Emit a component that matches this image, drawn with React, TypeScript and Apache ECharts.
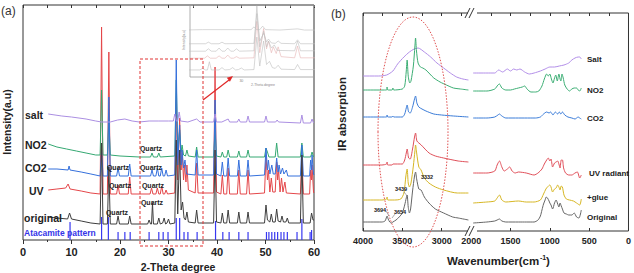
import React, { useEffect, useRef } from "react";
import * as echarts from "echarts";

// ---------- Panel (a): XRD, [2-theta, intensity (a.u.)] ----------
const xrdTicks = [0, 10, 20, 30, 40, 50, 60];

const xrdOriginal: number[][] = [
  [5.2, 23], [7, 22], [9.2, 21], [9.6, 27], [10, 21], [12, 19], [14, 17], [15.9, 16], [16.2, 97], [16.5, 16],
  [17.4, 16], [17.7, 73], [18, 16], [19.3, 16], [19.6, 24], [19.9, 16], [21.7, 16], [22, 24], [22.3, 16],
  [25.7, 16], [26, 20], [26.3, 16], [26.5, 16], [26.7, 37], [26.9, 16], [27.7, 16], [28, 22], [28.3, 16],
  [28.8, 17], [29.1, 22], [29.4, 16], [29.7, 17], [30, 21], [30.3, 16], [31.3, 17], [31.6, 100], [31.9, 26],
  [32.3, 90], [32.6, 30], [32.9, 38], [33.2, 22], [33.5, 20], [33.8, 28], [34.1, 18], [35.5, 17], [35.8, 30],
  [36.1, 17], [39.3, 17], [39.6, 90], [39.9, 18], [40.8, 17], [41.1, 27], [41.4, 17], [42, 17], [42.3, 30],
  [42.6, 17], [44.2, 17], [44.5, 28], [44.8, 17], [46.1, 17], [46.4, 28], [46.7, 17], [49.8, 17], [50.1, 35],
  [50.4, 20], [50.9, 18], [51.2, 26], [51.5, 18], [52, 18], [52.3, 31], [52.6, 19], [53.1, 18], [53.4, 24],
  [53.7, 18], [54.2, 18], [54.5, 22], [54.8, 17], [57.2, 17], [57.5, 85], [57.8, 17], [59.2, 17], [59.5, 27],
  [59.8, 20], [60, 20],
];

const xrdUV: number[][] = [
  [5.2, 50], [7, 51], [8.8, 52], [9.3, 56], [9.7, 51], [12, 49], [14, 47], [15.9, 46], [16.2, 213], [16.5, 46],
  [17.4, 46], [17.7, 188], [18, 46], [19.3, 46], [19.6, 55], [19.9, 46], [21.7, 46], [22, 63], [22.3, 46],
  [26.2, 46], [26.5, 52], [26.8, 46], [27.4, 46], [27.7, 52], [28, 46], [28.3, 46], [28.6, 54], [28.9, 46],
  [29.2, 46], [29.5, 50], [29.8, 46], [31.3, 47], [31.6, 140], [31.9, 60], [32.3, 122], [32.6, 70], [32.8, 90],
  [33.1, 60], [33.3, 75], [33.6, 58], [33.8, 75], [34.1, 50], [35.5, 47], [35.8, 77], [36.1, 47], [39.3, 47],
  [39.6, 173], [39.9, 48], [40.8, 46], [41.1, 65], [41.4, 46], [42, 46], [42.3, 72], [42.6, 46], [44.2, 46],
  [44.5, 70], [44.8, 46], [46.1, 46], [46.4, 70], [46.7, 46], [49.8, 47], [50.1, 85], [50.4, 60], [50.6, 70],
  [50.9, 48], [51.2, 62], [51.5, 48], [52, 48], [52.3, 78], [52.5, 60], [52.7, 70], [53, 48], [53.3, 62],
  [53.6, 48], [54, 58], [54.3, 47], [57.2, 46], [57.5, 85], [57.8, 46], [59.1, 46], [59.3, 70], [59.5, 60],
  [59.6, 75], [59.9, 48], [60, 47],
];

const xrdCO2: number[][] = [
  [5.2, 71], [7, 71], [9.3, 70], [9.5, 74], [9.7, 70], [12, 68], [14, 66], [15.9, 64], [16.2, 90], [16.5, 64],
  [17.4, 64], [17.7, 143], [18, 64], [19.3, 64], [19.6, 72], [19.9, 64], [21.7, 64], [22, 76], [22.3, 64],
  [26.3, 64], [26.6, 70], [26.9, 64], [27.4, 64], [27.7, 72], [28, 64], [28.3, 64], [28.6, 72], [28.9, 64],
  [29.2, 64], [29.5, 70], [29.8, 64], [31.3, 65], [31.6, 180], [31.9, 75], [32.3, 115], [32.6, 75], [32.8, 90],
  [33.1, 72], [33.4, 80], [33.7, 66], [35.5, 65], [35.8, 90], [36.1, 65], [39.3, 65], [39.6, 140], [39.9, 66],
  [40.8, 64], [41.1, 78], [41.4, 64], [42, 64], [42.3, 82], [42.6, 64], [44.2, 64], [44.5, 80], [44.8, 64],
  [46.1, 64], [46.4, 80], [46.7, 64], [49.8, 65], [50.1, 92], [50.4, 70], [50.6, 80], [50.9, 66], [51.3, 75],
  [51.6, 66], [52, 66], [52.3, 82], [52.6, 68], [52.8, 75], [53.1, 66], [53.5, 72], [53.8, 66], [54.3, 70],
  [54.6, 64], [57.2, 64], [57.5, 95], [57.8, 64], [59.1, 64], [59.3, 80], [59.5, 70], [59.6, 85], [59.9, 66],
  [60, 65],
];

const xrdNO2: number[][] = [
  [5.2, 96], [7, 93], [9, 91], [11, 89], [13, 87], [15, 85], [15.9, 85], [16.2, 150], [16.5, 85], [17.4, 85],
  [17.7, 120], [18, 85], [20, 84], [24, 83], [26.3, 83], [26.6, 87], [26.9, 83], [27.7, 83], [28, 87], [28.3, 83],
  [31.3, 84], [31.6, 160], [31.9, 90], [32.3, 110], [32.6, 88], [32.8, 95], [33.1, 85], [33.5, 84], [33.8, 90],
  [34.1, 84], [35.5, 83], [35.8, 93], [36.1, 83], [39.3, 83], [39.6, 110], [39.9, 84], [40.8, 83], [41.1, 88],
  [41.4, 83], [42, 83], [42.3, 90], [42.6, 83], [44.2, 83], [44.5, 89], [44.8, 83], [46.1, 83], [46.4, 90],
  [46.7, 83], [49.8, 83], [50.1, 92], [50.4, 88], [50.7, 83], [52, 83], [52.3, 97], [52.6, 83], [57.2, 83],
  [57.5, 97], [57.8, 83], [59.3, 83], [59.6, 88], [59.9, 83], [60, 83],
];

const xrdSalt: number[][] = [
  [5.2, 126], [8, 124], [10, 123], [13, 121], [15, 119], [16.2, 118], [18, 118], [19.5, 120], [21, 121],
  [22.5, 119], [24, 118], [26, 119], [28, 119], [30, 119], [31, 119], [31.3, 126], [31.6, 119], [31.9, 119],
  [32.2, 128], [32.5, 119], [34, 118], [35.8, 121], [36.5, 118], [39.3, 118], [39.6, 126], [39.9, 118], [41, 118],
  [42.3, 121], [42.6, 118], [44.2, 118], [44.5, 121], [44.8, 118], [46.1, 118], [46.4, 124], [46.7, 118],
  [49.8, 118], [50.1, 124], [50.4, 118], [52.1, 118], [52.4, 120], [52.7, 118], [57.2, 117], [57.5, 125],
  [57.8, 117], [59.3, 117], [59.6, 121], [59.9, 117], [60, 117],
];

const atacamitePos = [9.7, 16.2, 17.6, 19.6, 21.0, 22.1, 26.0, 28.0, 28.9, 29.9, 31.6, 32.3, 33.2, 34.0, 35.9, 39.7,
  41.2, 42.5, 44.5, 46.4, 50.2, 50.7, 51.3, 51.9, 52.5, 53.2, 53.8, 54.5, 56.5, 57.5, 59.2, 59.5];
const atacamiteH = [18, 23, 23, 8, 8, 8, 8, 8, 8, 8, 22, 22, 8, 8, 8, 19, 8, 8, 8, 8, 8, 8, 8, 8, 8, 8, 8, 8, 8, 21, 8, 10];

const quartzLabels = [[151, 148], [118, 167], [151, 167], [120, 185], [153, 185], [152, 202], [117, 212]];

// ---------- Panel (b): FTIR, [wavenumber, absorbance (a.u.)] ----------
const irTickLabels = [4000, 3500, 3000, 2000, 1500, 1000, 500, 0];
const BREAK_AT = 2300;
const BREAK_SHIFT = 625;

const irSaltHigh = [[4000, 155], [3800, 155], [3700, 156], [3620, 160], [3560, 167], [3480, 174], [3410, 179], [3350, 182], [3300, 183], [3220, 179], [3140, 174], [3060, 168], [2975, 163], [2890, 158], [2810, 154], [2730, 152], [2660, 151]];
const irSaltLow = [[1975, 158], [1800, 158], [1700, 158], [1650, 161], [1600, 159], [1540, 162], [1500, 160], [1460, 162], [1420, 161], [1380, 162], [1320, 159], [1260, 157], [1200, 158], [1120, 160], [1060, 162], [1000, 164], [940, 164], [880, 165], [820, 166], [760, 168], [720, 171], [680, 173], [640, 174], [620, 174], [600, 172]];

const irNO2High = [[4000, 141], [3760, 141], [3700, 141], [3694, 144], [3685, 141], [3630, 141], [3620, 143], [3610, 141], [3500, 142], [3470, 145], [3450, 160], [3439, 171], [3425, 155], [3405, 148], [3390, 150], [3360, 165], [3340, 185], [3332, 193], [3320, 180], [3300, 168], [3270, 164], [3240, 163], [3200, 161], [3150, 157], [3100, 153], [3020, 149], [2940, 146], [2850, 143], [2760, 142], [2660, 141]];
const irNO2Low = [[1975, 140], [1800, 140], [1700, 142], [1660, 146], [1640, 147], [1610, 143], [1560, 141], [1500, 141], [1450, 142], [1400, 143], [1350, 144], [1320, 145], [1290, 142], [1240, 139], [1180, 139], [1140, 140], [1100, 145], [1070, 152], [1040, 157], [1020, 155], [1000, 157], [980, 152], [960, 148], [940, 153], [925, 156], [905, 150], [885, 157], [870, 152], [860, 150], [845, 157], [830, 153], [810, 146], [780, 142], [750, 140], [720, 142], [690, 143], [660, 143], [640, 141], [620, 140], [600, 143]];

const irCO2High = [[4000, 114], [3760, 114], [3700, 114], [3694, 116], [3685, 114], [3630, 114], [3620, 115], [3610, 114], [3500, 114], [3470, 117], [3450, 123], [3439, 126], [3420, 119], [3400, 118], [3370, 124], [3345, 132], [3332, 135], [3315, 128], [3290, 124], [3250, 122], [3200, 120], [3100, 117], [3000, 116], [2850, 115], [2660, 114]];
const irCO2Low = [[1975, 113], [1800, 113], [1700, 114], [1660, 116], [1640, 117], [1610, 115], [1560, 113], [1400, 113], [1250, 113], [1180, 113], [1120, 114], [1080, 117], [1040, 119], [1010, 118], [990, 119], [960, 116], [930, 119], [900, 117], [880, 119], [860, 117], [840, 119], [810, 116], [770, 114], [720, 113], [680, 112], [640, 114], [620, 113], [600, 112]];

const irUVHigh = [[4000, 66], [3760, 66], [3700, 67], [3694, 69], [3685, 66], [3630, 66], [3620, 67], [3500, 67], [3470, 71], [3450, 78], [3439, 82], [3420, 73], [3400, 72], [3370, 82], [3345, 94], [3332, 98], [3315, 90], [3290, 88], [3260, 86], [3160, 78], [3080, 75], [2975, 73], [2790, 70], [2660, 69]];
const irUVLow = [[1975, 58], [1800, 58], [1700, 60], [1670, 66], [1640, 70], [1610, 64], [1580, 60], [1540, 62], [1510, 64], [1480, 60], [1440, 58], [1400, 59], [1300, 58], [1200, 56], [1150, 58], [1100, 62], [1070, 67], [1040, 71], [1020, 73], [1000, 70], [985, 72], [965, 64], [940, 68], [920, 69], [900, 70], [885, 67], [870, 63], [855, 71], [840, 71], [825, 63], [800, 58], [760, 56], [720, 56], [680, 58], [650, 59], [620, 53], [600, 56]];

const irGlueHigh = [[4000, 31], [3760, 31], [3700, 32], [3694, 34], [3685, 31], [3600, 31], [3520, 32], [3480, 38], [3455, 55], [3439, 62], [3425, 48], [3410, 44], [3390, 48], [3360, 65], [3340, 80], [3332, 86], [3318, 78], [3290, 64], [3262, 61], [3220, 53], [3162, 48], [3080, 44], [2975, 41], [2800, 38], [2660, 38]];
const irGlueLow = [[1975, 28], [1800, 29], [1700, 30], [1670, 33], [1640, 36], [1610, 31], [1560, 29], [1400, 30], [1300, 29], [1200, 29], [1120, 31], [1080, 37], [1050, 42], [1030, 44], [1000, 46], [985, 44], [965, 39], [940, 42], [920, 43], [900, 46], [885, 44], [870, 41], [855, 45], [840, 44], [820, 36], [790, 32], [750, 31], [700, 30], [660, 28], [620, 26], [600, 32]];

const irOrigHigh = [[4000, 9], [3760, 9], [3720, 10], [3700, 14], [3694, 15], [3680, 12], [3660, 9], [3640, 8], [3620, 9], [3580, 11], [3540, 14], [3500, 18], [3470, 26], [3450, 33], [3439, 36], [3425, 24], [3410, 18], [3395, 22], [3370, 40], [3345, 55], [3332, 59], [3318, 52], [3290, 42], [3262, 41], [3220, 34], [3162, 28], [3080, 22], [2975, 18], [2860, 14], [2790, 13], [2660, 11]];
const irOrigLow = [[1975, 8], [1800, 9], [1700, 10], [1670, 11], [1640, 12], [1610, 10], [1560, 9], [1400, 9], [1300, 9], [1200, 9], [1150, 11], [1120, 15], [1100, 21], [1080, 27], [1060, 31], [1045, 34], [1030, 33], [1010, 30], [1000, 28], [985, 26], [965, 22], [940, 28], [920, 31], [900, 27], [885, 24], [870, 28], [855, 25], [840, 22], [820, 18], [790, 17], [760, 16], [720, 16], [690, 18], [660, 14], [630, 13], [600, 21]];

const FONT = "Arial, 'Liberation Sans', sans-serif";

function txt(text: string, x: number, y: number, size: number, opts: any = {}) {
  return {
    type: "text",
    x,
    y,
    rotation: opts.rotation || 0,
    z: 100,
    style: {
      text,
      fontSize: size,
      fontWeight: opts.weight || "bold",
      fontFamily: FONT,
      fill: opts.color || "#222",
      align: opts.align || "left",
      verticalAlign: "middle",
      textAlign: opts.align || "left",
      textVerticalAlign: "middle",
    },
  };
}

function seg(x1: number, y1: number, x2: number, y2: number, color: string, w = 1, dash?: number[]) {
  return { type: "line", z: 100, shape: { x1, y1, x2, y2 }, style: { stroke: color, lineWidth: w, lineDash: dash } };
}

function buildOption() {
  const toD = (wn: number) => (wn > BREAK_AT ? wn - BREAK_SHIFT : wn);
  const fromD = (d: number) => (d > 2001 ? d + BREAK_SHIFT : d);
  const irD = (arr: number[][]) => arr.map(([w, v]) => [toD(w), v]);

  const xrdSeries = [
    { data: xrdUV, color: "#e4474a" },
    { data: xrdNO2, color: "#35a872" },
    { data: xrdCO2, color: "#3570dc" },
    { data: xrdOriginal, color: "#3e3e3e" },
    { data: xrdSalt, color: "#ab8fe2" },
  ];

  const series: any[] = [];
  xrdSeries.forEach((s) =>
    series.push({
      type: "line", xAxisIndex: 0, yAxisIndex: 0, data: s.data, showSymbol: false, silent: true,
      lineStyle: { width: 1, color: s.color },
    })
  );
  series.push({
    type: "bar", xAxisIndex: 0, yAxisIndex: 0, barWidth: 1.2, silent: true,
    data: atacamitePos.map((p, i) => [p, atacamiteH[i]]),
    itemStyle: { color: "#3838f0" },
  });
  // inset: zoom on 24.7-37.5 degrees
  xrdSeries.forEach((s, i) =>
    series.push({
      type: "line", xAxisIndex: 2, yAxisIndex: 1, data: s.data, showSymbol: false, silent: true,
      lineStyle: { width: 0.6, color: i === 0 ? "#e6b4b4" : "#bdbdbd" },
    })
  );

  const irSamples = [
    { hi: irSaltHigh, lo: irSaltLow, color: "#b28ee8" },
    { hi: irNO2High, lo: irNO2Low, color: "#3cae74" },
    { hi: irCO2High, lo: irCO2Low, color: "#3b7cd8" },
    { hi: irUVHigh, lo: irUVLow, color: "#e0505a" },
    { hi: irGlueHigh, lo: irGlueLow, color: "#d6b624" },
    { hi: irOrigHigh, lo: irOrigLow, color: "#666666" },
  ];
  irSamples.forEach((s) => {
    [s.hi, s.lo].forEach((arr) =>
      series.push({
        type: "line", xAxisIndex: 4, yAxisIndex: 2, data: irD(arr), showSymbol: false, silent: true,
        smooth: 0.25, lineStyle: { width: 1, color: s.color },
      })
    );
  });

  const irLabelD = irTickLabels.map(toD);
  const irTopTicks = [0, 250, 500, 750, 1000, 1250, 1500, 1750, 2000, 2750, 3000, 3250, 3500, 3750, 4000].map(toD);

  const hidden = { axisLine: { show: false }, axisTick: { show: false }, axisLabel: { show: false }, splitLine: { show: false } };

  const graphic: any[] = [
    txt("(a)", 1, 11, 12, { weight: "normal", color: "#333" }),
    txt("(b)", 331, 14, 12, { weight: "normal", color: "#333" }),
    txt("Intensity(a.u)", 7, 122, 10.5, { align: "center", rotation: Math.PI / 2 }),
    txt("2-Theta degree", 178, 267, 10.5, { align: "center" }),
    txt("IR absorption", 342, 114, 11.5, { align: "center", rotation: Math.PI / 2 }),
    txt("Wavenumber(cm", 447, 261, 11.5),
    txt("-1", 540, 257, 7),
    txt(")", 546, 261, 11.5),
    txt("salt", 25, 115, 10.5),
    txt("NO2", 25, 145, 10.5),
    txt("CO2", 25, 168, 10.5),
    txt("UV", 29, 191, 10.5),
    txt("original", 24, 218, 10.5),
    txt("Atacamite pattern", 24, 233, 8.5, { color: "#3434e8" }),
    ...quartzLabels.map(([x, y]) => txt("Quartz", x, y, 7, { align: "center" })),
    // inset texts
    txt("Intensity(a.u)", 184, 40, 3.5, { align: "center", rotation: Math.PI / 2, color: "#888", weight: "normal" }),
    txt("2-Theta degree", 263, 85, 3.5, { align: "center", color: "#888", weight: "normal" }),
    // dashed selection box and arrow
    { type: "rect", z: 90, shape: { x: 140, y: 59, width: 63, height: 187 }, style: { fill: "none", stroke: "#e03434", lineWidth: 1, lineDash: [3, 2] } },
    seg(203, 100, 229, 80, "#e02828", 1.2),
    { type: "polygon", z: 100, shape: { points: [[233, 76], [229.9, 81.7], [226.8, 77.8]] }, style: { fill: "#e02828" } },
    // panel b labels
    txt("Salt", 587, 59, 8),
    txt("NO2", 587, 90, 8),
    txt("CO2", 587, 118, 8),
    txt("UV radiant", 589, 173, 8),
    txt("+glue", 587, 197, 8),
    txt("Original", 587, 217, 8),
    txt("3332", 427, 177, 5.5, { align: "center" }),
    txt("3439", 401, 189, 5.5, { align: "center" }),
    txt("3694", 380, 210, 5.5, { align: "center" }),
    txt("3654", 400, 212, 5.5, { align: "center" }),
    seg(404, 192, 408, 197, "#777", 0.6),
    seg(386, 211, 389, 216, "#777", 0.6),
    seg(395, 214, 392, 218, "#777", 0.6),
    { type: "ellipse", z: 95, shape: { cx: 413, cy: 132, rx: 35, ry: 115 }, style: { fill: "none", stroke: "#e05050", lineWidth: 1, lineDash: [1.5, 1.5] } },
    // axis break marks
    { type: "rect", z: 99, shape: { x: 468, y: 228, width: 9, height: 6 }, style: { fill: "#fff" } },
    seg(465, 236, 470, 226, "#333", 1),
    seg(469, 236, 474, 226, "#333", 1),
    { type: "rect", z: 99, shape: { x: 468, y: 10, width: 9, height: 6 }, style: { fill: "#fff" } },
    seg(465, 18, 470, 8, "#333", 1),
    seg(469, 18, 474, 8, "#333", 1),
  ];

  return {
    animation: false,
    backgroundColor: "#fff",
    textStyle: { fontFamily: FONT },
    grid: [
      { left: 23, top: 5, width: 291, height: 235, show: true, borderColor: "#333", borderWidth: 1 },
      { left: 190, top: 5, width: 124, height: 72, show: true, borderColor: "#9a9a9a", borderWidth: 0.8 },
      { left: 363, top: 13, width: 270, height: 218, show: true, borderColor: "#333", borderWidth: 1 },
    ],
    xAxis: [
      {
        gridIndex: 0, type: "value", min: xrdTicks[0], max: xrdTicks[xrdTicks.length - 1], interval: 10,
        axisLine: { show: false }, splitLine: { show: false },
        axisTick: { show: true, length: 4, lineStyle: { color: "#333" } },
        minorTick: { show: true, splitNumber: 2, length: 2, lineStyle: { color: "#333" } },
        axisLabel: { fontSize: 11, fontWeight: "bold", color: "#222", margin: 6, fontFamily: FONT },
      },
      {
        gridIndex: 0, type: "value", position: "top", min: 0, max: 60, interval: 5,
        axisLine: { show: false }, splitLine: { show: false }, axisLabel: { show: false },
        axisTick: { show: true, inside: true, length: 3, lineStyle: { color: "#333" } },
      },
      {
        gridIndex: 1, type: "value", min: 24.7, max: 37.5,
        axisLine: { show: false }, splitLine: { show: false }, axisTick: { show: false },
        axisLabel: { customValues: [30], fontSize: 3.5, color: "#888", margin: 2, fontFamily: FONT },
      },
      {
        gridIndex: 1, type: "value", position: "top", min: 24.7, max: 37.5,
        axisLine: { show: false }, splitLine: { show: false }, axisLabel: { show: false },
        axisTick: { show: true, inside: true, length: 2, customValues: [25, 27.5, 30, 32.5, 35, 37.5], lineStyle: { color: "#999", width: 0.6 } },
      },
      {
        gridIndex: 2, type: "value", min: 0, max: toD(4000), inverse: true,
        axisLine: { show: false }, splitLine: { show: false },
        axisTick: { show: true, inside: true, length: 3, customValues: irLabelD, lineStyle: { color: "#333" } },
        axisLabel: {
          customValues: irLabelD, fontSize: 9, fontWeight: "bold", color: "#222", margin: 5, fontFamily: FONT,
          formatter: (v: number) => String(fromD(v)),
        },
      },
      {
        gridIndex: 2, type: "value", position: "top", min: 0, max: toD(4000), inverse: true,
        axisLine: { show: false }, splitLine: { show: false }, axisLabel: { show: false },
        axisTick: { show: true, inside: true, length: 3, customValues: irTopTicks, lineStyle: { color: "#333" } },
      },
    ],
    yAxis: [
      { gridIndex: 0, type: "value", min: 0, max: 235, ...hidden },
      { gridIndex: 1, type: "value", min: -2, max: 182, ...hidden },
      { gridIndex: 2, type: "value", min: 0, max: 218, ...hidden },
    ],
    series,
    graphic,
  };
}

export default function App() {
  const ref = useRef<HTMLDivElement>(null);
  useEffect(() => {
    if (!ref.current) return;
    const chart = echarts.init(ref.current, null, { renderer: "svg" });
    chart.setOption(buildOption() as any);
    return () => chart.dispose();
  }, []);
  return (
    <div
      ref={ref}
      style={{ position: "fixed", left: 0, top: 0, width: 634, height: 273, background: "#fff" }}
    />
  );
}
